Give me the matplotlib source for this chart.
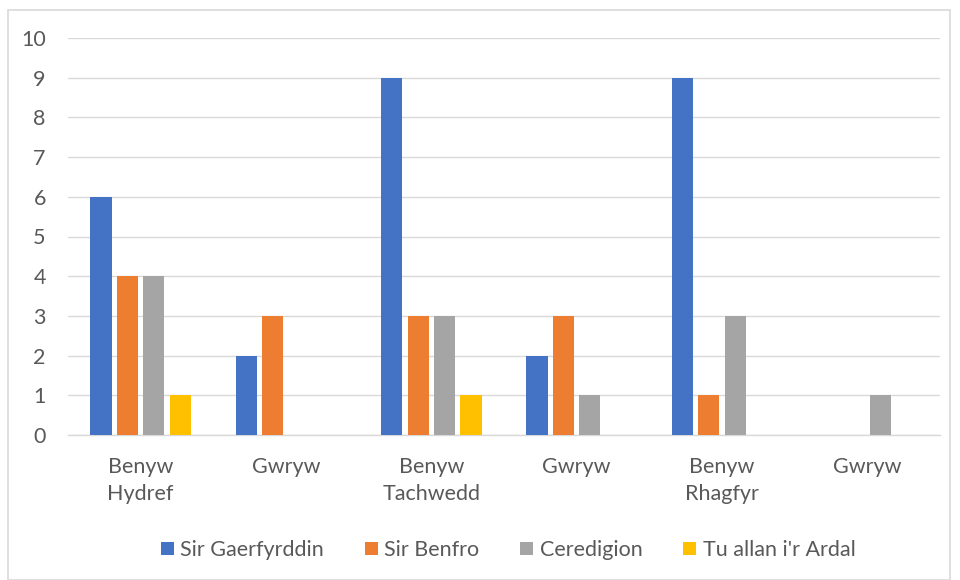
import matplotlib
matplotlib.use("Agg")
import matplotlib.pyplot as plt
import numpy as np
from matplotlib.patches import Rectangle

plt.rcParams['font.family'] = ['Lato', 'DejaVu Sans']

sex_labels = ["Benyw", "Gwryw", "Benyw", "Gwryw", "Benyw", "Gwryw"]
month_labels = ["Hydref", "", "Tachwedd", "", "Rhagfyr", ""]
series_names = ["Sir Gaerfyrddin", "Sir Benfro", "Ceredigion", "Tu allan i'r Ardal"]
sir_gaerfyrddin = [6, 2, 9, 2, 9, 0]
sir_benfro = [4, 3, 3, 3, 1, 0]
ceredigion = [4, 0, 3, 1, 3, 1]
tu_allan = [1, 0, 1, 0, 0, 0]
colors = ["#4472C4", "#ED7D31", "#A5A5A5", "#FFC000"]

series = [sir_gaerfyrddin, sir_benfro, ceredigion, tu_allan]
text_color = "#595959"
fs = 15.5

fig = plt.figure(figsize=(9.6, 5.8), dpi=100)
ax = fig.add_axes([68/960, 1-435/580, (940-68)/960, (435-38)/580])

x = np.arange(len(sex_labels))
step = 0.182
width = 0.145
for i, (vals, name, c) in enumerate(zip(series, series_names, colors)):
    ax.bar(x + (i - 1.5) * step, vals, width=width, color=c, label=name, zorder=3)

ax.set_xlim(-0.5, len(sex_labels) - 0.5)
ax.set_ylim(0, 10)
ax.set_yticks(range(0, 11))
ax.yaxis.grid(True, color="#D9D9D9", linewidth=1, zorder=0)
for s in ["top", "right", "left"]:
    ax.spines[s].set_visible(False)
ax.spines["bottom"].set_color("#D9D9D9")
ax.spines["bottom"].set_linewidth(1)
ax.tick_params(axis="y", length=0, labelsize=fs, labelcolor=text_color, pad=16)
ax.tick_params(axis="x", length=0)
ax.set_xticks(x)
ax.set_xticklabels([f"{s}\n{m}" if m else s for s, m in zip(sex_labels, month_labels)],
                   fontsize=fs, color=text_color, linespacing=1.4, va="top")
ax.tick_params(axis="x", pad=16)

leg = fig.legend(loc="center", bbox_to_anchor=(508/960, 1-550/580), ncol=4, frameon=False,
                 fontsize=fs, labelcolor=text_color, handlelength=0.6, handleheight=0.6,
                 handletextpad=0.3, columnspacing=1.9)

fig.patches.append(Rectangle((8/960, 0), (950-8)/960, 1-10/580, transform=fig.transFigure,
                             fill=False, edgecolor="#D9D9D9", linewidth=1.2))

fig.savefig("out.png", dpi=100)
